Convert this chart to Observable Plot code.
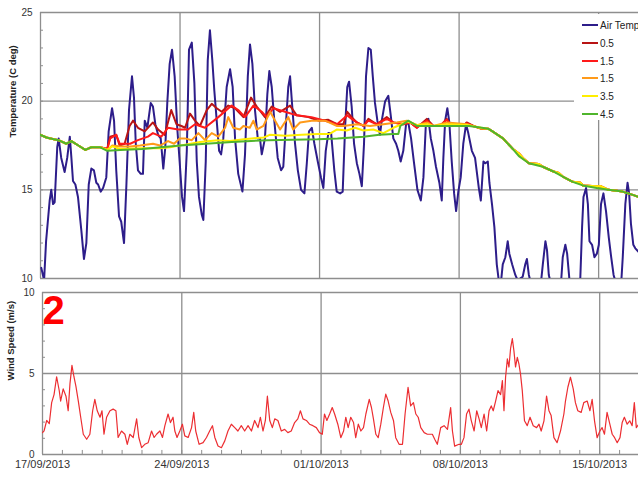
<!DOCTYPE html>
<html>
<head>
<meta charset="utf-8">
<script src="https://cdn.jsdelivr.net/npm/d3@7"></script>
<script src="https://cdn.jsdelivr.net/npm/@observablehq/plot@0.6"></script>
<style>
  html, body { margin: 0; padding: 0; background: #fff; }
  #wrap { position: relative; width: 638px; height: 480px; overflow: hidden; background: #fff;
          font-family: "Liberation Sans", Arial, sans-serif; }
  #top, #bottom { position: absolute; left: 0; }
  #top { top: 0; }
  #bottom { top: 282px; }
  #legend { position: absolute; left: 574px; top: 14px; width: 70px; height: 106px; background: #fff; }
  .item { position: absolute; left: 0; height: 12px; display: flex; align-items: center; font-size: 10px; color: #222; white-space: nowrap; }
  .sw { display: inline-block; width: 16px; height: 2px; margin-left: 8px; margin-right: 2px; }
</style>
</head>
<body>
<div id="wrap">
  <div id="top"></div>
  <div id="bottom"></div>
  <div id="legend"></div>
</div>
<script>
// ---------- tick labels / axes text ----------
const xTickDays = [0, 7, 14, 21, 28];
const xTickLabels = ["17/09/2013", "24/09/2013", "01/10/2013", "08/10/2013", "15/10/2013"];
const tempTicks = [10, 15, 20, 25];
const windTicks = [0, 5, 10];
const tempTitle = "Temperature (C deg)";
const windTitle = "Wind Speed (m/s)";
const panelTag = "2";

// ---------- series names / colours ----------
const seriesNames = ["Air Temp", "0.5", "1.5", "1.5", "3.5", "4.5"];
const seriesColors = ["#2d1d8a", "#b81414", "#ff1a1a", "#ff9a1a", "#ffee00", "#4fb52c"];

// ---------- data: [day since 17/09/2013, value] ----------
const airTemp = [[0.04,10.6],[0.18,9.9],[0.28,12.1],[0.46,14.4],[0.54,15.0],[0.63,14.2],[0.71,14.3],[0.84,17.4],[0.91,17.9],[1.04,16.8],[1.21,16.0],[1.34,16.8],[1.47,18.0],[1.55,16.8],[1.63,15.5],[1.75,15.3],[1.88,14.6],[2.05,12.7],[2.18,11.1],[2.30,12.0],[2.42,15.3],[2.55,16.2],[2.68,16.1],[2.80,15.4],[2.89,15.3],[3.02,14.9],[3.14,15.1],[3.30,15.7],[3.42,18.3],[3.59,19.6],[3.69,18.9],[3.80,16.1],[3.94,13.5],[4.05,13.2],[4.19,12.0],[4.31,15.3],[4.44,19.5],[4.59,21.4],[4.69,20.2],[4.78,17.6],[4.89,16.1],[5.03,15.9],[5.14,15.9],[5.23,18.9],[5.36,18.5],[5.53,19.9],[5.64,19.7],[5.76,18.7],[5.90,18.1],[6.03,17.9],[6.16,16.2],[6.26,17.4],[6.36,19.9],[6.48,22.1],[6.60,22.9],[6.73,21.4],[6.86,18.5],[6.98,16.6],[7.10,14.6],[7.20,13.8],[7.34,17.2],[7.45,22.9],[7.59,23.3],[7.72,21.0],[7.84,16.6],[7.95,14.6],[8.09,13.6],[8.17,13.3],[8.29,16.6],[8.39,22.3],[8.50,24.0],[8.62,22.3],[8.72,20.6],[8.84,18.9],[8.96,17.2],[9.06,17.0],[9.17,17.9],[9.34,20.8],[9.51,21.8],[9.64,20.8],[9.76,17.9],[9.92,15.9],[10.13,14.9],[10.26,17.0],[10.40,21.4],[10.51,23.2],[10.63,22.1],[10.76,19.5],[10.90,17.9],[11.01,17.9],[11.10,17.0],[11.26,17.9],[11.38,20.4],[11.48,21.7],[11.60,20.8],[11.73,18.9],[11.90,16.8],[12.07,16.1],[12.18,16.3],[12.30,18.5],[12.43,20.8],[12.52,21.4],[12.63,19.7],[12.77,17.6],[12.91,16.1],[13.07,15.0],[13.24,14.8],[13.36,16.5],[13.47,18.3],[13.61,18.5],[13.74,17.6],[13.91,16.6],[14.07,15.7],[14.19,15.1],[14.31,17.2],[14.44,18.2],[14.58,18.2],[14.74,16.1],[14.86,14.9],[15.03,14.8],[15.16,14.9],[15.28,18.5],[15.39,20.8],[15.48,21.1],[15.61,19.7],[15.73,17.6],[15.87,16.5],[16.00,15.9],[16.12,15.2],[16.23,17.6],[16.33,21.4],[16.45,23.0],[16.57,22.9],[16.67,21.4],[16.78,19.9],[16.90,18.9],[17.03,18.1],[17.12,18.9],[17.29,20.0],[17.45,20.3],[17.57,19.2],[17.70,17.9],[17.84,17.6],[17.95,17.2],[18.07,16.6],[18.20,17.2],[18.34,18.7],[18.45,18.8],[18.59,17.9],[18.74,16.5],[18.91,15.0],[19.08,14.4],[19.21,15.7],[19.34,18.9],[19.46,19.0],[19.58,17.9],[19.71,17.2],[19.84,16.3],[20.01,15.4],[20.13,14.4],[20.21,16.8],[20.30,18.9],[20.41,19.6],[20.51,18.8],[20.63,16.6],[20.75,14.8],[20.85,13.8],[20.96,14.9],[21.08,15.7],[21.21,17.6],[21.35,18.7],[21.46,18.2],[21.64,17.2],[21.80,16.8],[21.99,15.1],[22.09,14.4],[22.15,15.4],[22.22,16.6],[22.32,16.5],[22.44,16.6],[22.52,15.4],[22.65,14.2],[22.77,12.9],[22.89,10.8],[22.99,9.9],[23.11,9.9],[23.19,10.8],[23.32,11.2],[23.44,12.1],[23.52,11.4],[23.66,10.8],[23.82,10.2],[23.94,9.9],[24.19,10.1],[24.32,10.8],[24.40,11.1],[24.50,10.2],[24.61,9.7],[25.11,9.8],[25.20,10.8],[25.33,12.1],[25.41,11.6],[25.50,10.2],[25.61,9.7],[26.11,9.7],[26.20,11.2],[26.33,11.9],[26.42,11.4],[26.53,10.0],[26.70,9.7],[27.07,9.7],[27.17,12.9],[27.24,14.6],[27.37,15.1],[27.46,14.2],[27.54,12.1],[27.67,11.9],[27.79,11.2],[27.91,11.4],[28.01,11.9],[28.12,14.2],[28.24,14.8],[28.37,13.8],[28.51,12.3],[28.63,11.2],[28.75,10.2],[28.88,9.7],[29.13,9.7],[29.21,11.2],[29.34,14.2],[29.45,15.4],[29.53,14.8],[29.62,13.1],[29.74,11.9],[29.84,11.7],[30.0,11.5]];

const waterEarly = [[0,18.1],[0.3,17.95],[0.5,17.9],[0.9,17.8],[1.3,17.6],[1.55,17.75],[1.9,17.5],[2.25,17.25],[2.55,17.4],[3.0,17.4]];
const waterLate = [[22.45,18.45],[22.6,18.35],[23.2,17.9],[23.7,17.3],[24.0,17.05],[24.2,16.8],[24.5,16.5],[25.0,16.45],[25.2,16.3],[25.7,16.05],[26.0,15.95],[26.2,15.75],[26.7,15.45],[27.1,15.4],[27.2,15.25],[27.9,15.2],[28.1,15.2],[28.5,15.0],[29.2,14.9],[29.75,14.7],[30,14.6]];

const water05 = [[3.35,17.3],[3.5,18.0],[3.8,18.1],[3.97,17.5],[4.22,17.6],[4.47,18.6],[4.64,18.9],[4.89,18.5],[5.23,18.3],[5.64,18.8],[5.9,18.4],[6.23,18.1],[6.56,19.5],[6.82,18.7],[7.07,18.6],[7.25,18.5],[7.5,19.3],[7.75,18.9],[8.0,18.6],[8.34,19.5],[8.59,19.85],[8.84,19.6],[9.09,19.4],[9.42,19.75],[9.76,19.6],[10.18,19.1],[10.56,20.2],[10.85,19.7],[11.26,19.1],[11.6,19.7],[12.02,19.4],[12.52,19.75],[12.85,19.2],[13.44,19.1],[13.94,18.9],[14.44,18.95],[14.88,18.7],[15.19,18.7],[15.39,19.4],[15.61,19.1],[15.87,18.8],[16.2,18.6],[16.45,19.0],[16.87,18.7],[17.37,19.1],[17.7,18.8],[18.2,18.7],[18.54,18.8],[18.88,18.5],[19.38,19.0],[19.71,18.6],[20.05,18.6],[20.38,19.0],[20.63,18.6],[21.21,18.6],[21.38,18.8],[21.72,18.6],[22.1,18.45]];
const water15a = [[3.35,17.3],[3.5,17.9],[3.8,18.1],[3.97,17.6],[4.22,17.6],[4.5,17.6],[4.89,17.8],[5.39,18.0],[5.64,18.2],[6.06,18.0],[6.4,18.5],[6.9,18.4],[7.4,18.4],[7.75,18.7],[8.25,18.5],[8.92,19.1],[9.59,19.75],[9.92,19.5],[10.26,19.1],[10.68,19.75],[11.1,19.4],[11.35,19.1],[11.68,19.6],[12.27,19.4],[12.85,19.2],[13.6,19.1],[14.28,18.9],[14.88,18.7],[15.39,19.2],[15.61,19.0],[15.87,18.8],[16.2,18.6],[16.45,18.9],[16.87,18.7],[17.37,19.0],[17.7,18.8],[18.2,18.7],[18.54,18.8],[18.88,18.5],[19.38,18.9],[19.71,18.6],[20.05,18.6],[20.38,18.95],[20.63,18.6],[21.21,18.6],[21.38,18.75],[21.72,18.6],[22.1,18.45]];
const water15b = [[3.35,17.25],[3.6,17.5],[4.0,17.45],[4.5,17.45],[5.0,17.5],[5.64,17.6],[6.0,17.5],[6.4,17.75],[6.7,17.6],[6.98,17.9],[7.25,17.9],[7.59,17.8],[7.92,18.2],[8.25,17.8],[8.59,18.2],[8.92,18.0],[9.26,18.5],[9.42,19.1],[9.67,18.5],[10.0,18.4],[10.18,18.6],[10.5,18.5],[10.68,18.9],[10.85,18.4],[11.18,18.6],[11.52,19.4],[11.77,18.9],[12.02,18.4],[12.43,19.1],[12.68,18.4],[13.02,18.8],[13.6,18.9],[14.28,18.9],[14.88,18.6],[15.19,18.6],[15.87,18.7],[16.53,18.6],[17.2,18.7],[17.87,18.8],[18.37,18.9],[18.9,18.65],[19.4,18.8],[19.7,18.6],[20.4,18.8],[21.4,18.7],[22.1,18.45]];
const water35 = [[3.35,17.25],[3.6,17.45],[4.0,17.3],[5.0,17.35],[6.0,17.35],[6.5,17.4],[7.25,17.55],[8.0,17.7],[8.9,17.8],[9.5,17.75],[10.2,17.85],[10.6,17.9],[11.2,17.95],[11.5,18.1],[12.3,18.05],[13.1,18.1],[13.9,18.15],[14.5,18.15],[14.86,18.4],[15.36,18.35],[15.78,18.5],[16.2,18.35],[16.7,18.4],[17.2,18.2],[17.7,18.5],[18.12,18.7],[18.4,18.85],[18.9,18.65],[19.4,18.7],[19.7,18.6],[20.4,18.7],[21.4,18.65],[22.1,18.5]];
const water45 = [[3.35,17.2],[4.0,17.25],[5.1,17.3],[7.0,17.5],[9.6,17.7],[11.4,17.8],[13.9,17.85],[14.9,17.9],[16.2,18.0],[17.0,18.1],[17.7,18.15],[17.95,18.15],[18.05,18.6],[18.45,18.9],[18.9,18.6],[19.5,18.6],[20.4,18.6],[21.5,18.6],[22.15,18.5],[22.45,18.45],[22.6,18.35],[23.2,17.9],[23.7,17.3],[24.0,16.9],[24.5,16.5],[25.2,16.3],[25.7,16.05],[26.2,15.75],[26.7,15.45],[27.2,15.25],[27.9,15.1],[28.5,15.0],[29.2,14.9],[29.75,14.7],[30,14.6]];

const windSpeed = [[0.0,1.35],[0.08,1.46],[0.21,2.1],[0.34,1.9],[0.46,3.2],[0.58,3.7],[0.71,4.8],[0.84,3.95],[0.91,3.3],[1.04,4.05],[1.18,3.6],[1.29,2.7],[1.38,4.36],[1.48,5.5],[1.58,4.8],[1.68,4.2],[1.8,3.3],[1.92,2.3],[2.05,1.25],[2.22,0.94],[2.38,1.25],[2.52,2.7],[2.63,3.4],[2.75,2.7],[2.89,2.3],[2.99,2.7],[3.09,1.25],[3.22,2.3],[3.39,2.7],[3.55,2.8],[3.69,2.7],[3.8,1.05],[3.97,1.45],[4.14,1.25],[4.26,0.63],[4.39,1.25],[4.56,1.05],[4.73,2.2],[4.84,1.05],[4.98,0.42],[5.14,0.63],[5.31,0.73],[5.48,1.45],[5.61,1.05],[5.73,1.25],[5.9,1.45],[6.03,1.05],[6.15,1.78],[6.31,2.5],[6.43,1.97],[6.56,2.3],[6.65,1.45],[6.76,1.05],[6.9,1.45],[7.03,1.87],[7.15,1.15],[7.32,1.05],[7.49,1.66],[7.6,2.6],[7.7,1.45],[7.87,0.63],[8.07,0.73],[8.24,1.05],[8.4,1.45],[8.54,1.78],[8.66,1.05],[8.82,0.52],[8.99,0.42],[9.16,0.84],[9.32,1.45],[9.49,1.87],[9.66,1.66],[9.82,1.45],[9.99,1.78],[10.16,1.45],[10.33,1.78],[10.5,1.45],[10.66,2.1],[10.83,1.66],[10.95,2.3],[11.08,1.45],[11.2,2.1],[11.3,3.6],[11.42,2.1],[11.55,1.66],[11.67,2.2],[11.83,2.1],[12.0,1.45],[12.17,1.55],[12.33,1.35],[12.5,1.45],[12.67,1.97],[12.83,2.2],[12.96,2.7],[13.09,2.2],[13.26,2.1],[13.42,1.87],[13.59,1.78],[13.76,1.66],[13.92,1.35],[14.06,1.25],[14.17,2.5],[14.29,2.1],[14.43,2.5],[14.56,2.9],[14.68,2.5],[14.84,1.87],[14.99,1.04],[15.13,1.45],[15.24,2.3],[15.36,1.66],[15.49,2.3],[15.63,1.97],[15.74,1.04],[15.87,1.87],[16.0,1.45],[16.13,1.66],[16.25,2.5],[16.42,3.4],[16.53,2.9],[16.63,2.2],[16.75,1.25],[16.87,1.04],[17.0,1.87],[17.13,2.9],[17.25,3.73],[17.37,3.3],[17.5,2.6],[17.64,2.08],[17.75,1.04],[17.92,0.63],[18.09,0.63],[18.22,2.5],[18.37,4.15],[18.5,3.0],[18.64,3.2],[18.76,2.5],[18.88,2.3],[19.01,1.66],[19.18,1.35],[19.34,1.25],[19.59,1.25],[19.71,0.94],[19.84,0.63],[20.01,1.66],[20.18,1.78],[20.35,1.55],[20.51,2.9],[20.6,1.45],[20.71,0.52],[20.93,0.63],[21.05,0.63],[21.18,1.04],[21.31,2.5],[21.43,2.8],[21.55,2.08],[21.69,1.45],[21.82,2.7],[21.94,2.2],[22.05,1.66],[22.19,2.5],[22.32,1.45],[22.44,2.7],[22.55,3.0],[22.65,2.7],[22.77,3.3],[22.89,3.94],[23.02,3.7],[23.11,4.56],[23.19,2.7],[23.27,4.77],[23.36,5.9],[23.44,5.4],[23.52,6.53],[23.61,7.15],[23.69,6.4],[23.77,5.4],[23.86,6.0],[23.94,5.6],[24.02,4.98],[24.11,3.94],[24.22,2.08],[24.36,1.78],[24.5,2.3],[24.66,1.78],[24.83,1.66],[24.95,1.87],[25.06,1.45],[25.2,2.08],[25.33,3.6],[25.45,2.7],[25.56,2.4],[25.7,1.04],[25.86,0.73],[26.03,1.45],[26.2,2.5],[26.28,3.3],[26.4,4.15],[26.53,4.77],[26.67,4.05],[26.78,3.2],[26.9,2.7],[27.07,2.6],[27.2,3.2],[27.37,3.3],[27.51,2.7],[27.62,3.4],[27.74,2.08],[27.87,1.04],[28.01,1.45],[28.12,1.66],[28.24,1.25],[28.37,2.6],[28.51,1.87],[28.63,1.25],[28.75,1.04],[28.88,0.73],[29.02,1.04],[29.13,1.97],[29.24,2.3],[29.38,1.87],[29.51,2.08],[29.63,1.78],[29.74,3.2],[29.84,1.66],[29.96,1.87]];

// ---------- build ----------
const rows = (pairs) => pairs.map(([day, value]) => ({day, value}));
const waterSeries = [
  waterEarly.concat(water05, waterLate),
  waterEarly.concat(water15a, waterLate),
  waterEarly.concat(water15b, waterLate),
  waterEarly.concat(water35, waterLate),
  waterEarly.concat(water45)
];

const grid = "#8e8e8e";
const font = "'Liberation Sans', Arial, sans-serif";
const minorTemp = d3.range(10, 26);
const minorWind = d3.range(0, 11);
const minorDays = d3.range(0, 30);

const topMarks = [
  Plot.ruleY(tempTicks, {stroke: grid, strokeWidth: 1.3}),
  Plot.ruleX(xTickDays, {stroke: grid, strokeWidth: 1.3}),
  Plot.ruleY(minorTemp, {x1: 0, x2: 0.15, stroke: grid}),
  Plot.line(rows(airTemp), {x: "day", y: "value", stroke: seriesColors[0], strokeWidth: 2, clip: true}),
  ...waterSeries.map((s, i) => Plot.line(rows(s), {x: "day", y: "value", stroke: seriesColors[i + 1], strokeWidth: 2, clip: true})),
  Plot.axisY({ticks: tempTicks, tickSize: 0, tickPadding: 8, fontSize: 10, fill: "#333", label: null}),
  Plot.text([tempTitle], {frameAnchor: "left", rotate: -90, dx: -28, dy: -8, fontSize: 9.5, fontWeight: "bold", fill: "#222"})
];

const topChart = Plot.plot({
  width: 638, height: 280,
  marginLeft: 40, marginRight: 0, marginTop: 12, marginBottom: 2,
  x: {domain: [0, 30], axis: null},
  y: {domain: [10, 25], axis: null},
  style: {fontFamily: font, background: "transparent", overflow: "visible"},
  marks: topMarks
});
document.getElementById("top").appendChild(topChart);

const bottomChart = Plot.plot({
  width: 638, height: 198,
  marginLeft: 42, marginRight: 0, marginTop: 10, marginBottom: 26,
  x: {domain: [0, 29.95], axis: null},
  y: {domain: [0, 10], axis: null},
  style: {fontFamily: font, background: "transparent", overflow: "visible"},
  marks: [
    Plot.ruleY(windTicks, {stroke: grid, strokeWidth: 1.3}),
    Plot.ruleX(xTickDays, {stroke: grid, strokeWidth: 1.3}),
    Plot.ruleY(minorWind, {x1: 0, x2: 0.15, stroke: grid}),
    Plot.ruleX(minorDays, {y1: 0, y2: 0.25, stroke: grid}),
    Plot.line(rows(windSpeed), {x: "day", y: "value", stroke: "#ec2e32", strokeWidth: 1.2, clip: true}),
    Plot.axisY({ticks: windTicks, tickSize: 0, tickPadding: 8, fontSize: 10, fill: "#333", label: null}),
    Plot.axisX({ticks: xTickDays, tickFormat: d => xTickLabels[xTickDays.indexOf(d)], tickSize: 0, tickPadding: 6, fontSize: 11, fill: "#333", label: null}),
    Plot.text([windTitle], {frameAnchor: "left", rotate: -90, dx: -32, dy: 7, fontSize: 9.5, fontWeight: "bold", fill: "#222"}),
    Plot.text([panelTag], {frameAnchor: "top-left", lineAnchor: "top", dx: 0, dy: 3, fontSize: 40, fontWeight: "bold", fill: "#ff0000"})
  ]
});
document.getElementById("bottom").appendChild(bottomChart);

// ---------- legend ----------
const legend = document.getElementById("legend");
const legendY = [5, 23, 41, 58, 76, 94];
seriesNames.forEach((name, i) => {
  const item = document.createElement("div");
  item.className = "item";
  item.style.top = legendY[i] + "px";
  const sw = document.createElement("span");
  sw.className = "sw";
  sw.style.background = seriesColors[i];
  item.appendChild(sw);
  item.appendChild(document.createTextNode(name));
  legend.appendChild(item);
});
</script>
</body>
</html>
